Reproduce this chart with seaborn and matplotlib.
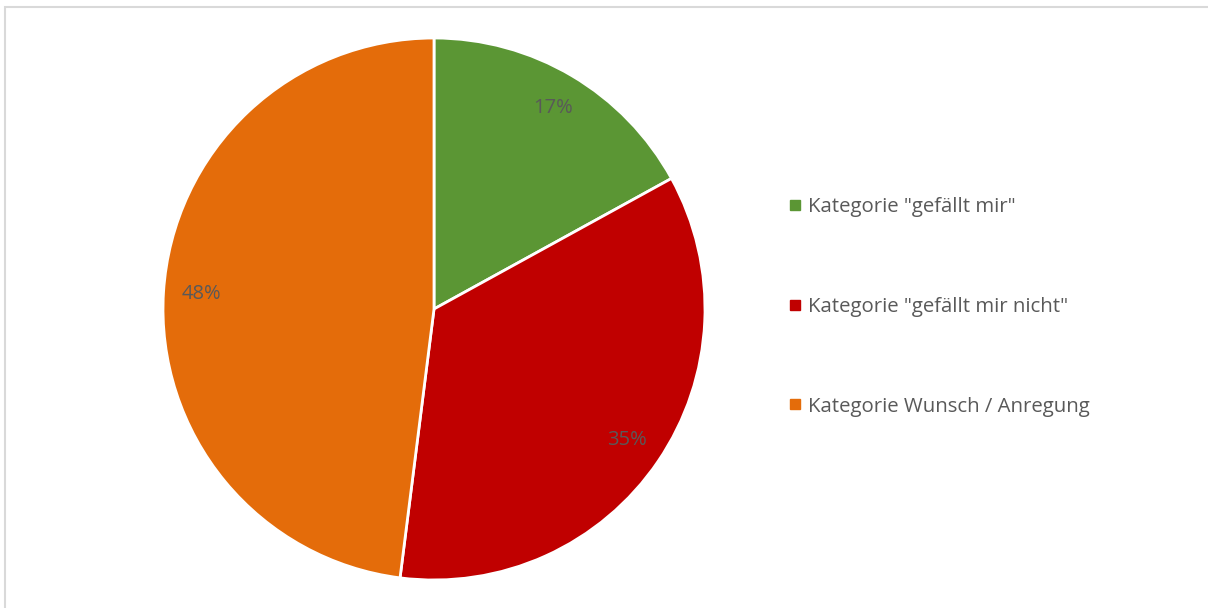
import matplotlib
matplotlib.use("Agg")
import matplotlib.pyplot as plt
from matplotlib.lines import Line2D
from matplotlib.patches import Rectangle
import seaborn as sns

categories = ['Kategorie "gefällt mir"', 'Kategorie "gefällt mir nicht"', 'Kategorie Wunsch / Anregung']
shares = [17, 35, 48]
colors = ["#5B9634", "#C00000", "#E46C0A"]

sns.set_theme(style="white")
plt.rcParams["font.family"] = ["Open Sans", "DejaVu Sans"]
text_color = "#595959"

W, H = 1208, 608
fig = plt.figure(figsize=(W / 100, H / 100), dpi=100)
fig.patch.set_facecolor("white")

# chart-area border (light grey frame)
fig.patches.append(Rectangle((5 / W, -0.05), 1.2, 1 - 7 / H + 0.05, transform=fig.transFigure,
                             fill=False, edgecolor="#D9D9D9", linewidth=1.5))

cx, cy, r = 434, 309, 271
ax = fig.add_axes([(cx - r) / W, (H - cy - r) / H, 2 * r / W, 2 * r / H])
wedges, texts, autotexts = ax.pie(
    shares, colors=colors, startangle=90, counterclock=False,
    autopct=lambda p: f"{p:.0f}%", pctdistance=0.86,
    wedgeprops=dict(edgecolor="white", linewidth=2),
    textprops=dict(color=text_color, fontsize=14.5),
)
ax.set_xlim(-1, 1)
ax.set_ylim(-1, 1)
ax.set_aspect("equal")
ax.axis("off")

handles = [Line2D([0], [0], marker="s", linestyle="none", markersize=6.5,
                  markerfacecolor=c, markeredgecolor=c) for c in colors]
fig.legend(handles, categories, loc="center left", bbox_to_anchor=(779 / W, 1 - 307 / H),
           frameon=False, fontsize=14.7, labelcolor=text_color, labelspacing=3.9,
           handlelength=0.6, handletextpad=0.3, borderpad=0)

fig.savefig("out.png", dpi=100, facecolor="white")
